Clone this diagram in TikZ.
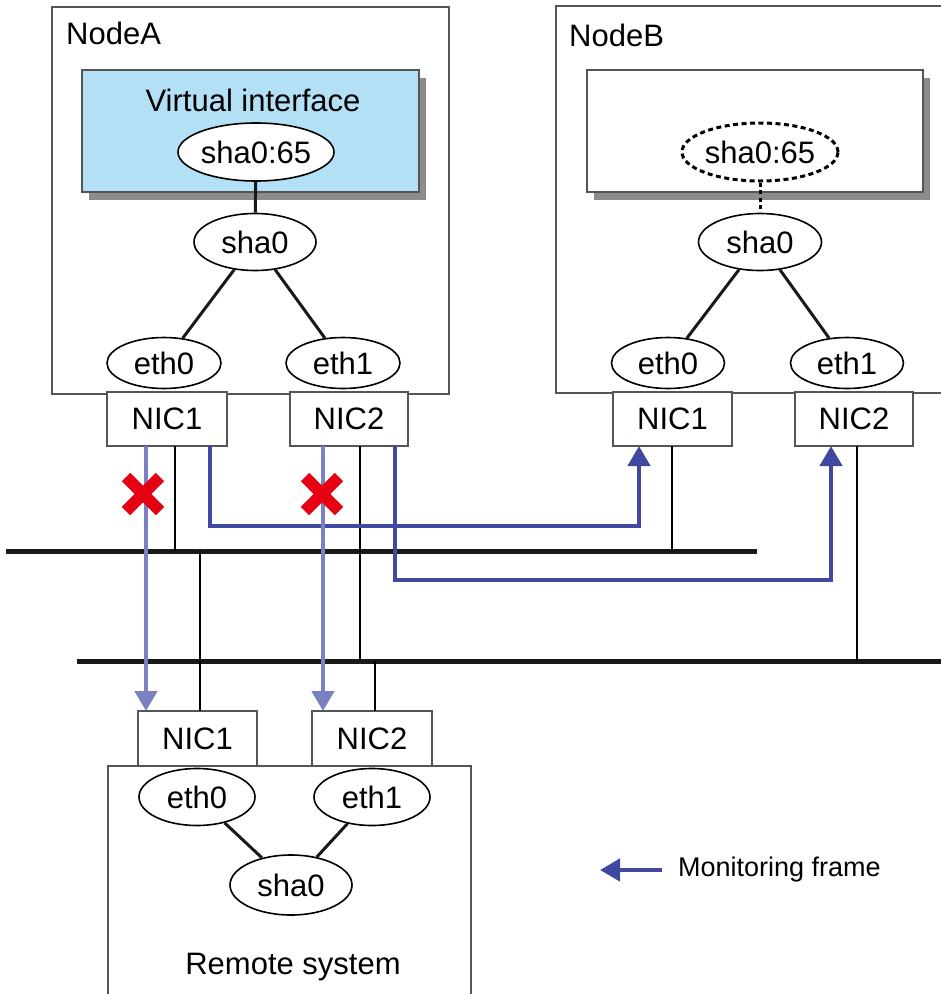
\documentclass[tikz,border=0pt]{standalone}
\usepackage{fontspec}
\setmainfont{Liberation Sans}
\usetikzlibrary{arrows.meta,shapes.geometric}
\definecolor{vifill}{RGB}{179,224,245}
\definecolor{darkarrow}{RGB}{64,72,160}
\definecolor{lightarrow}{RGB}{122,128,194}
\definecolor{xred}{RGB}{230,0,18}
\definecolor{boxline}{RGB}{85,85,85}
\definecolor{shadowgray}{RGB}{140,140,140}
\begin{document}
\begin{tikzpicture}[x=1pt,y=-1pt,
  font=\fontsize{31}{36}\selectfont,
  ell/.style={ellipse,draw=black,line width=1.6pt,fill=white,inner sep=0pt,minimum width=114pt,minimum height=51pt},
  dell/.style={ell,draw=black,line width=3pt,dash pattern=on 5pt off 3.5pt},
  nicbox/.style={rectangle,draw=boxline,line width=1.8pt,fill=white,minimum width=119pt,minimum height=54pt,inner sep=0pt},
  hostbox/.style={rectangle,draw=boxline,line width=1.8pt,inner sep=0pt,anchor=north west},
  shadowbox/.style={rectangle,fill=shadowgray,inner sep=0pt,anchor=north west},
  link/.style={draw=black!90,line width=3pt},
  thin/.style={draw=black,line width=1.4pt},
  bus/.style={draw=black!90,line width=5pt},
  darkarr/.style={draw=darkarrow,line width=4.5pt,-{Triangle[length=20pt,width=22pt]}},
  lightarr/.style={draw=lightarrow,line width=4.5pt,-{Triangle[length=20pt,width=22pt]}},
  xmark/.style={draw=xred,line width=12pt},
  lbl/.style={inner sep=0pt}
]
\useasboundingbox (0,0) rectangle (941,994);

% ---------------- NodeA ----------------
\node[hostbox,minimum width=397pt,minimum height=387pt] (nodeA) at (51,6) {};
\node[lbl,anchor=west] (nodeAlbl) at (66,33) {NodeA};
\node[shadowbox,minimum width=337pt,minimum height=122pt] (viAshadow) at (89,78) {};
\node[hostbox,fill=vifill,minimum width=337pt,minimum height=122pt] (viA) at (81,69) {};
\node[lbl] (viAlbl) at (253,100) {Virtual interface};
\node[ell,minimum width=150pt,minimum height=58pt] (vipA) at (256,152) {sha0:65};
\node[ell,minimum width=122pt,minimum height=57pt] (shaA) at (255,242) {sha0};
\node[ell] (eth0A) at (164,363) {eth0};
\node[ell] (eth1A) at (343,363) {eth1};
\node[nicbox,minimum width=120pt] (nic1A) at (167,419) {NIC1};
\node[nicbox,minimum width=118pt] (nic2A) at (349,419) {NIC2};
\draw[link] (vipA) -- (shaA);
\draw[link] (shaA) -- (eth0A);
\draw[link] (shaA) -- (eth1A);

% ---------------- NodeB ----------------
\coordinate (nodeBtr) at (941,6);
\coordinate (nodeBtl) at (556,6);
\coordinate (nodeBbl) at (556,393);
\coordinate (nodeBbr) at (941,393);
\draw[draw=boxline,line width=1.8pt] (nodeBtr) -- (nodeBtl) -- (nodeBbl) -- (nodeBbr);
\node[lbl,anchor=west] (nodeBlbl) at (569,35) {NodeB};
\node[shadowbox,minimum width=336pt,minimum height=122pt] (viBshadow) at (594,78) {};
\node[hostbox,fill=white,minimum width=336pt,minimum height=122pt] (viB) at (586,69) {};
\node[dell,minimum width=153pt,minimum height=58pt] (vipB) at (760,152) {sha0:65};
\node[ell,minimum width=123pt,minimum height=57pt] (shaB) at (760,242) {sha0};
\node[ell,minimum width=113pt] (eth0B) at (668,363) {eth0};
\node[ell,minimum width=113pt] (eth1B) at (847,363) {eth1};
\node[nicbox,minimum width=119pt] (nic1B) at (672.5,419) {NIC1};
\node[nicbox,minimum width=118pt] (nic2B) at (854,419) {NIC2};
\draw[draw=black,line width=3pt,dash pattern=on 4pt off 3.5pt] (vipB) -- (shaB);
\draw[link] (shaB) -- (eth0B);
\draw[link] (shaB) -- (eth1B);

% ---------------- Remote system ----------------
\coordinate (remBl) at (108,994);
\coordinate (remTl) at (108,766);
\coordinate (remTr) at (471,766);
\coordinate (remBr) at (471,994);
\draw[draw=boxline,line width=1.8pt] (remBl) -- (remTl) -- (remTr) -- (remBr);
\node[nicbox,minimum width=119pt,minimum height=55pt] (nic1R) at (197.5,738.5) {NIC1};
\node[nicbox,minimum width=120pt,minimum height=55pt] (nic2R) at (372,738.5) {NIC2};
\node[ell,minimum width=116pt,minimum height=57pt] (eth0R) at (197,797) {eth0};
\node[ell,minimum width=116pt,minimum height=57pt] (eth1R) at (372,797) {eth1};
\node[ell,minimum width=122pt,minimum height=60pt] (shaR) at (291,885) {sha0};
\draw[link] (eth0R) -- (shaR);
\draw[link] (eth1R) -- (shaR);
\node[lbl] (remlbl) at (293,967) {Remote system};

% ---------------- Buses ----------------
\coordinate (busUl) at (6,551);
\coordinate (busUr) at (757,551);
\coordinate (busLl) at (77,661);
\coordinate (busLr) at (941,661);
\draw[bus] (busUl) -- (busUr);
\draw[bus] (busLl) -- (busLr);

% thin cable lines
\coordinate (cA1) at (175,446);  \coordinate (cA1b) at (175,551);
\coordinate (cA2) at (360,446);  \coordinate (cA2b) at (360,661);
\coordinate (cB1) at (672,446);  \coordinate (cB1b) at (672,551);
\coordinate (cB2) at (857,446);  \coordinate (cB2b) at (857,661);
\coordinate (cR1) at (200,711);  \coordinate (cR1b) at (200,551);
\coordinate (cR2) at (375,711);  \coordinate (cR2b) at (375,661);
\draw[thin] (cA1) -- (cA1b);
\draw[thin] (cA2) -- (cA2b);
\draw[thin] (cB1) -- (cB1b);
\draw[thin] (cB2) -- (cB2b);
\draw[thin] (cR1b) -- (cR1);
\draw[thin] (cR2b) -- (cR2);

% ---------------- Monitoring frames ----------------
\coordinate (dA1) at (210,446); \coordinate (dA1m) at (210,526);
\coordinate (dB1m) at (639,526); \coordinate (dB1) at (639,446);
\draw[darkarr] (dA1) -- (dA1m) -- (dB1m) -- (dB1);
\coordinate (dA2) at (395,446); \coordinate (dA2m) at (395,580);
\coordinate (dB2m) at (831,580); \coordinate (dB2) at (831,446);
\draw[darkarr] (dA2) -- (dA2m) -- (dB2m) -- (dB2);

\coordinate (lA1) at (146,446); \coordinate (lR1) at (146,711);
\coordinate (lA2) at (323,446); \coordinate (lR2) at (323,711);
\draw[lightarr] (lA1) -- (lR1);
\draw[lightarr] (lA2) -- (lR2);

% red crosses
\coordinate (x1) at (143,494);
\coordinate (x2) at (322,494);
\draw[xmark] ([shift={(-17,-17)}]x1) -- ([shift={(17,17)}]x1);
\draw[xmark] ([shift={(-17,17)}]x1) -- ([shift={(17,-17)}]x1);
\draw[xmark] ([shift={(-17,-17)}]x2) -- ([shift={(17,17)}]x2);
\draw[xmark] ([shift={(-17,17)}]x2) -- ([shift={(17,-17)}]x2);

% ---------------- Legend ----------------
\coordinate (legTail) at (662,870);
\coordinate (legTip) at (600,870);
\draw[darkarr] (legTail) -- (legTip);
\node[lbl,anchor=west,font=\fontsize{27}{32}\selectfont] (leglbl) at (678,870) {Monitoring frame};
\end{tikzpicture}
\end{document}
